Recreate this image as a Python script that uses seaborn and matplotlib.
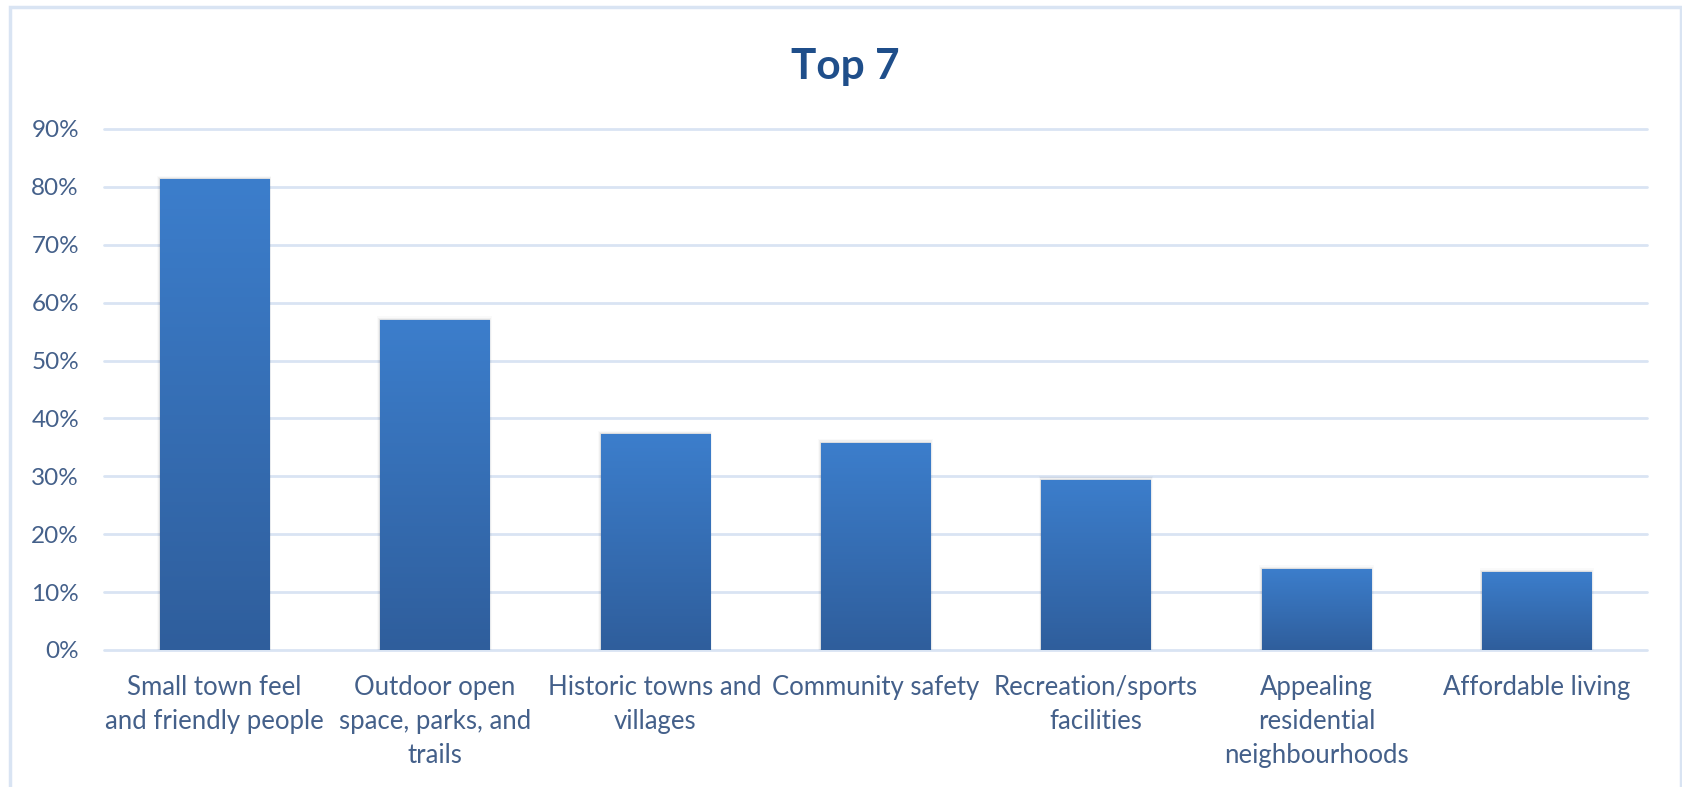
import numpy as np
import pandas as pd
import matplotlib
matplotlib.use("Agg")
import matplotlib.pyplot as plt
from matplotlib.patches import Rectangle
from matplotlib.colors import LinearSegmentedColormap
import seaborn as sns

# Survey results: share of respondents choosing each community attribute
categories = [
    "Small town feel\nand friendly people",
    "Outdoor open\nspace, parks, and\ntrails",
    "Historic towns and\nvillages",
    "Community safety",
    "Recreation/sports\nfacilities",
    "Appealing\nresidential\nneighbourhoods",
    "Affordable living",
]
shares = [0.813, 0.570, 0.373, 0.358, 0.294, 0.140, 0.135]
y_ticks = [0.0, 0.1, 0.2, 0.3, 0.4, 0.5, 0.6, 0.7, 0.8, 0.9]
y_tick_labels = ["0%", "10%", "20%", "30%", "40%", "50%", "60%", "70%", "80%", "90%"]
title_text = "Top 7"

df = pd.DataFrame({"category": categories, "share": shares})

sns.set_theme(style="white")
plt.rcParams["font.family"] = ["Lato", "DejaVu Sans"]

TEXT = "#44608a"
GRID = "#d9e4f3"
TOP_BLUE = "#3c7ecc"
BOTTOM_BLUE = "#2f5e9c"

W, H, DPI = 1683, 787, 100
fig = plt.figure(figsize=(W / DPI, H / DPI), dpi=DPI)
fig.patch.set_facecolor("white")

# axes: x from 104px to 1647px, 0% at y=650px, 10% = 57.9px
ax_left, ax_right = 104 / W, 1647 / W
ax_bottom = (H - 650) / H
ymax = 0.905
ax_height = (57.9 * ymax * 10) / H
ax = fig.add_axes([ax_left, ax_bottom, ax_right - ax_left, ax_height])

sns.barplot(data=df, x="category", y="share", color=TOP_BLUE, width=0.495,
            saturation=1, ax=ax, zorder=3)

# vertical gradient on each bar, plus a soft shadow
cmap = LinearSegmentedColormap.from_list("bargrad", [BOTTOM_BLUE, TOP_BLUE])
grad = np.linspace(0, 1, 256).reshape(-1, 1)
for bar in list(ax.patches):
    x0, y0 = bar.get_x(), bar.get_y()
    w, h = bar.get_width(), bar.get_height()
    for k, a in enumerate([0.06, 0.04, 0.02]):
        d = (k + 1) * 0.004
        sh = Rectangle((x0 - d, y0), w + 2 * d, h + d * 0.5, facecolor="#000000",
                       edgecolor="none", alpha=a, zorder=2)
        ax.add_patch(sh)
    bar.set_edgecolor("#5b8fd0")
    bar.set_linewidth(0.8)
    im = ax.imshow(grad, extent=[x0, x0 + w, y0, y0 + h], origin="lower",
                   cmap=cmap, aspect="auto", zorder=3.5, interpolation="bicubic")
    im.set_clip_path(bar)

ax.set_xlim(-0.5, len(categories) - 0.5)
ax.set_ylim(0, ymax)

ax.set_yticks(y_ticks)
ax.set_yticklabels(y_tick_labels)
ax.set_xlabel("")
ax.set_ylabel("")
ax.tick_params(axis="y", length=0, pad=18, labelsize=17.5, labelcolor=TEXT)
ax.tick_params(axis="x", length=0, pad=18, labelsize=18.5, labelcolor=TEXT)
for lbl in ax.get_xticklabels():
    lbl.set_linespacing(1.45)

for s in ax.spines.values():
    s.set_visible(False)
ax.grid(False)
for yv in y_ticks:
    ax.axhline(yv, color=GRID, linewidth=2, zorder=1, clip_on=False)

fig.text(845 / W, 1 - 67 / H, title_text, ha="center", va="center",
         fontsize=30.5, fontweight="bold", color="#1f4e8a")

# outer chart frame
frame = Rectangle((10 / W, -0.05), (1681 - 10) / W, (H - 7) / H + 0.05,
                  transform=fig.transFigure, facecolor="none",
                  edgecolor=GRID, linewidth=2.5)
fig.patches.append(frame)

fig.savefig("out.png", dpi=DPI, facecolor="white")
